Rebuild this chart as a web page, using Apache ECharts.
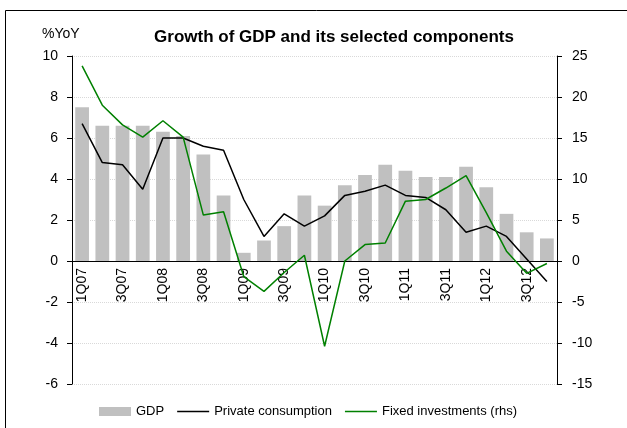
<!DOCTYPE html>
<html>
<head>
<meta charset="utf-8">
<script src="https://cdn.jsdelivr.net/npm/echarts@6/dist/echarts.min.js"></script>
<style>
html, body { margin: 0; padding: 0; background: #fff; }
#main { width: 627px; height: 428px; }
</style>
</head>
<body>
<div id="main"></div>
<script>
var quarters = ['1Q07','2Q07','3Q07','4Q07','1Q08','2Q08','3Q08','4Q08',
    '1Q09','2Q09','3Q09','4Q09','1Q10','2Q10','3Q10','4Q10',
    '1Q11','2Q11','3Q11','4Q11','1Q12','2Q12','3Q12','4Q12'];
var gdp = [7.5,6.6,6.6,6.6,6.3,6.1,5.2,3.2,0.4,1.0,1.7,3.2,2.7,3.7,4.2,4.7,4.4,4.1,4.1,4.6,3.6,2.3,1.4,1.1];
var consumption = [6.7,4.8,4.7,3.5,6.0,6.0,5.6,5.4,3.0,1.2,2.3,1.7,2.2,3.2,3.4,3.7,3.2,3.1,2.5,1.4,1.7,1.2,0.1,-1.0];
var investment = [23.8,19.0,16.6,15.1,17.1,15.1,5.6,6.0,-1.9,-3.7,-1.4,0.7,-10.4,0.0,2.0,2.2,7.3,7.5,8.9,10.4,5.9,1.2,-1.5,-0.3];

var myChart = echarts.init(document.getElementById('main'));
var font = 'Liberation Sans, Arial, sans-serif';
var lineIcon = 'path://M0,0 L32,0 L32,1.5 L0,1.5 Z';

var option = {
    animation: false,
    textStyle: {fontFamily: font},
    graphic: [
        {type: 'rect', shape: {x: 5.5, y: 10.5, width: 700, height: 500},
         style: {fill: 'none', stroke: '#000', lineWidth: 1}},
        {type: 'text', left: 42, top: 27,
         style: {text: '%YoY', font: '14px ' + font, fill: '#000'}}
    ],
    title: {
        text: 'Growth of GDP and its selected components',
        left: 329, top: 24, textAlign: 'center',
        textStyle: {fontSize: 17, fontWeight: 'bold', color: '#000', fontFamily: font}
    },
    legend: {
        top: 400,
        left: 94,
        itemWidth: 32,
        itemHeight: 9,
        itemGap: 13,
        symbolKeepAspect: true,
        textStyle: {fontSize: 13, color: '#000', fontFamily: font},
        data: [
            {name: 'GDP', icon: 'rect'},
            {name: 'Private consumption', icon: lineIcon},
            {name: 'Fixed investments (rhs)', icon: lineIcon}
        ]
    },
    grid: {left: 72, right: 70, top: 56, bottom: 44},
    xAxis: {
        type: 'category',
        data: quarters,
        position: 'bottom',
        offset: -123,
        axisLine: {onZero: false, lineStyle: {color: '#000', width: 1}},
        axisTick: {interval: 0, length: 5, lineStyle: {color: '#000'}},
        axisLabel: {interval: 1, rotate: 90, margin: 7, fontSize: 14, color: '#000'}
    },
    yAxis: [
        {
            type: 'value', min: -6, max: 10, interval: 2,
            axisLine: {show: true, lineStyle: {color: '#000'}},
            axisTick: {show: true, length: 5, lineStyle: {color: '#000'}},
            axisLabel: {fontSize: 14, color: '#000', margin: 14},
            splitLine: {lineStyle: {color: '#d9d9d9', type: 'dotted'}}
        },
        {
            type: 'value', min: -15, max: 25, interval: 5,
            axisLine: {show: true, lineStyle: {color: '#000'}},
            axisTick: {show: true, length: 5, lineStyle: {color: '#000'}},
            axisLabel: {fontSize: 14, color: '#000', margin: 15},
            splitLine: {show: false}
        }
    ],
    series: [
        {
            name: 'GDP', type: 'bar', data: gdp,
            barCategoryGap: '32%',
            itemStyle: {color: '#c0c0c0'}
        },
        {
            name: 'Private consumption', type: 'line', data: consumption,
            symbol: 'none',
            lineStyle: {color: '#000', width: 1.5},
            itemStyle: {color: '#000'}
        },
        {
            name: 'Fixed investments (rhs)', type: 'line', data: investment,
            yAxisIndex: 1, symbol: 'none',
            lineStyle: {color: '#008000', width: 1.5},
            itemStyle: {color: '#008000'}
        }
    ]
};
myChart.setOption(option);
</script>
</body>
</html>
